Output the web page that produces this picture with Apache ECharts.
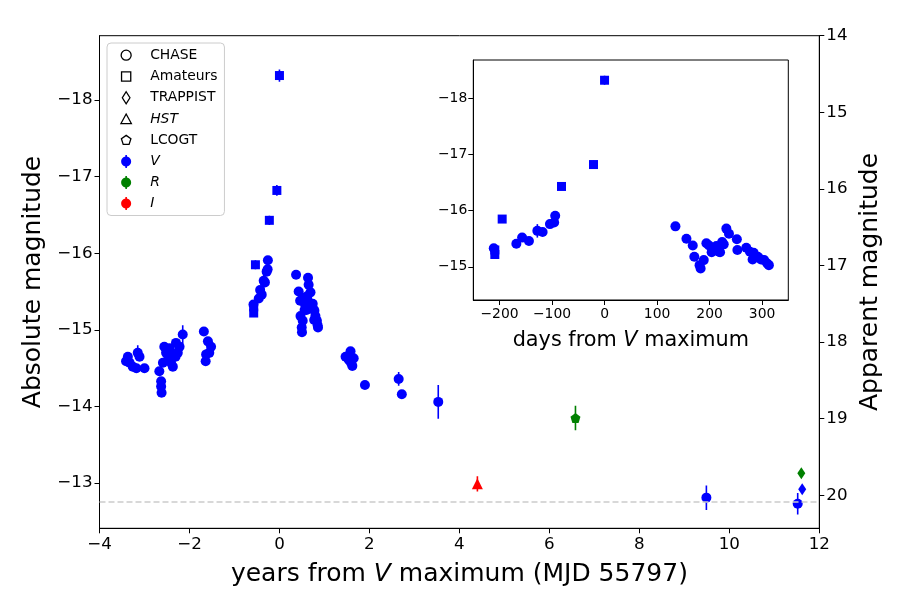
<!DOCTYPE html>
<html><head><meta charset="utf-8">
<script src="https://cdn.jsdelivr.net/npm/echarts@6/dist/echarts.min.js"></script>
<style>html,body{margin:0;padding:0;background:#fff}#c{width:900px;height:600px}</style>
</head><body><div id="c"></div>
<script>
// ---- tick labels ----
const yearTicks = [-4, -2, 0, 2, 4, 6, 8, 10, 12];
const absTicks = [-18, -17, -16, -15, -14, -13];
const appTicks = [14, 15, 16, 17, 18, 19, 20];
const dayTicks = [-200, -100, 0, 100, 200, 300];
const insetAbsTicks = [-18, -17, -16, -15];

const DIST_MOD = 32.84;        // apparent - absolute magnitude
const DAYS_PER_YEAR = 365.25;
const detectionLimit = -12.76; // dashed grey line (absolute mag)

// ---- CHASE V, far from peak: [years, absMag, err] ----
const chaseV_early = [
  [-3.41, -14.59, 0.03], [-3.37, -14.65, 0.03], [-3.33, -14.57, 0.03], [-3.26, -14.52, 0.03],
  [-3.18, -14.50, 0.03], [-3.15, -14.70, 0.10], [-3.11, -14.65, 0.03], [-3.00, -14.50, 0.03],
  [-2.67, -14.46, 0.03], [-2.63, -14.33, 0.03], [-2.63, -14.26, 0.03], [-2.62, -14.18, 0.03],
  [-2.59, -14.57, 0.03], [-2.56, -14.78, 0.03], [-2.52, -14.70, 0.03], [-2.48, -14.61, 0.03],
  [-2.44, -14.76, 0.03], [-2.41, -14.70, 0.03], [-2.41, -14.57, 0.03], [-2.37, -14.52, 0.03],
  [-2.31, -14.65, 0.03], [-2.30, -14.83, 0.03], [-2.26, -14.70, 0.03], [-2.22, -14.78, 0.03],
  [-2.15, -14.94, 0.12],
  [-1.68, -14.98, 0.03], [-1.64, -14.59, 0.03], [-1.63, -14.68, 0.03], [-1.59, -14.85, 0.03],
  [-1.56, -14.70, 0.03], [-1.52, -14.78, 0.03]
];
const chaseV_late = [
  [1.47, -14.65, 0.03], [1.54, -14.61, 0.03], [1.58, -14.72, 0.03], [1.59, -14.57, 0.03],
  [1.62, -14.53, 0.03], [1.65, -14.63, 0.03], [1.90, -14.28, 0.03], [2.65, -14.36, 0.09],
  [2.72, -14.16, 0.05], [3.53, -14.06, 0.22], [9.49, -12.81, 0.16], [11.52, -12.73, 0.14]
];
// ---- near peak (shown in both panels): [days, absMag, err] ----
const chaseV_peak = [
  [-211, -15.33, 0.03], [-168, -15.41, 0.03], [-157, -15.52, 0.03], [-144, -15.46, 0.03],
  [-128, -15.64, 0.12], [-118, -15.62, 0.03], [-104, -15.76, 0.03], [-96, -15.79, 0.03],
  [-94, -15.91, 0.03],
  [135, -15.72, 0.03], [156, -15.50, 0.03], [168, -15.38, 0.03], [171, -15.18, 0.03],
  [181, -15.03, 0.03], [183, -14.97, 0.03], [189, -15.12, 0.03], [194, -15.42, 0.03],
  [199, -15.38, 0.03], [204, -15.26, 0.03], [208, -15.33, 0.03], [213, -15.37, 0.03],
  [218, -15.27, 0.03], [220, -15.26, 0.03], [224, -15.44, 0.03], [227, -15.40, 0.03],
  [232, -15.68, 0.03], [237, -15.59, 0.03], [252, -15.49, 0.03], [253, -15.30, 0.03],
  [270, -15.34, 0.03], [277, -15.27, 0.03], [282, -15.13, 0.03], [284, -15.25, 0.03],
  [292, -15.18, 0.03], [298, -15.13, 0.03], [304, -15.12, 0.03], [310, -15.06, 0.03],
  [313, -15.03, 0.03]
];
const amateursV_peak = [
  [-209, -15.22, 0.05], [-209, -15.30, 0.05], [-195, -15.85, 0.06],
  [-82, -16.43, 0.06], [-21, -16.82, 0.07], [0, -18.32, 0.08]
];
// ---- other instruments: [years, absMag, err] ----
const hstI = [[4.40, -12.99, 0.10]];
const lcogtR = [[6.58, -13.85, 0.16]];
const trappistV = [[11.62, -12.92, 0.05]];
const trappistR = [[11.60, -13.13, 0.05]];

// ---------------------------------------------------------------
const FONT = 'DejaVu Sans';
const BLUE = '#0000ff', GREEN = '#008000', RED = '#ff0000';
const PENT = 'path://M0,-10 L9.51,-3.09 L5.88,8.09 L-5.88,8.09 L-9.51,-3.09 Z';
const SQUARE = 'path://M-5,-5 L5,-5 L5,5 L-5,5 Z';
const DIAMOND = 'path://M0,-6 L4,0 L0,6 L-4,0 Z';
const TRI = 'path://M0,-5.5 L5.5,5 L-5.5,5 Z';
// legend icons: padded with move-to points so they share one bounding box
const PAD = 'M-6.5,-6.5 M6.5,6.5 ';
const L_CIRCLE = 'path://' + PAD + 'M0,-5 C2.76,-5 5,-2.76 5,0 C5,2.76 2.76,5 0,5 C-2.76,5 -5,2.76 -5,0 C-5,-2.76 -2.76,-5 0,-5 Z';
const L_SQUARE = 'path://' + PAD + 'M-4.6,-4.6 L4.6,-4.6 L4.6,4.6 L-4.6,4.6 Z';
const L_DIAMOND = 'path://' + PAD + 'M0,-6 L3.8,0 L0,6 L-3.8,0 Z';
const L_TRI = 'path://' + PAD + 'M0,-5 L5.2,4.5 L-5.2,4.5 Z';
const L_PENT = 'path://' + PAD + 'M0,-5 L4.76,-1.55 L2.94,4.05 L-2.94,4.05 L-4.76,-1.55 Z';
const L_DOT = 'path://' + PAD + 'M0,-5 C2.76,-5 5,-2.76 5,0 C5,2.76 2.76,5 0,5 C-2.76,5 -5,2.76 -5,0 C-5,-2.76 -2.76,-5 0,-5 Z M-0.8,-6.5 L0.8,-6.5 L0.8,-4.9 L-0.8,-4.9 Z M-0.8,4.9 L0.8,4.9 L0.8,6.5 L-0.8,6.5 Z';

const toYears = d => d.map(p => [p[0] / DAYS_PER_YEAR, p[1], p[2]]);
const r2 = v => Math.round(v * 100) / 100;
const fmtMinus = v => String(v).replace('-', '\u2212');

function errSeries(data, xi, yi, color) {
  return {
    type: 'custom', xAxisIndex: xi, yAxisIndex: yi, data: data, silent: true, z: 2,
    encode: { x: 0, y: 1 }, clip: true,
    renderItem(params, api) {
      const x = api.value(0), y = api.value(1), e = api.value(2);
      const a = api.coord([x, y - e]), b = api.coord([x, y + e]);
      return { type: 'line', shape: { x1: a[0], y1: a[1], x2: b[0], y2: b[1] },
               style: { stroke: color, lineWidth: 1.6 } };
    }
  };
}
function markSeries(data, xi, yi, symbol, size, color) {
  return {
    type: 'scatter', xAxisIndex: xi, yAxisIndex: yi, silent: true, z: 3,
    data: data.map(p => [p[0], p[1]]), symbol: symbol, symbolSize: size,
    itemStyle: { color: color, opacity: 1 }, clip: true
  };
}
const series = [];
function group(data, xi, yi, symbol, size, color) {
  series.push(errSeries(data, xi, yi, color));
  series.push(markSeries(data, xi, yi, symbol, size, color));
}
// main panel
group(chaseV_early, 0, 0, 'circle', 10, BLUE);
group(chaseV_late, 0, 0, 'circle', 10, BLUE);
group(toYears(chaseV_peak), 0, 0, 'circle', 10, BLUE);
group(toYears(amateursV_peak), 0, 0, SQUARE, 9, BLUE);
group(hstI, 0, 0, TRI, 11, RED);
group(lcogtR, 0, 0, PENT, 10, GREEN);
group(trappistV, 0, 0, DIAMOND, [8, 12], BLUE);
group(trappistR, 0, 0, DIAMOND, [8, 12], GREEN);
// inset panel
group(chaseV_peak, 1, 2, 'circle', 10, BLUE);
group(amateursV_peak, 1, 2, SQUARE, 9, BLUE);

// detection-limit line
series.push({
  type: 'line', xAxisIndex: 0, yAxisIndex: 0, data: [], silent: true,
  markLine: { silent: true, symbol: 'none', label: { show: false }, animation: false,
    lineStyle: { color: '#cccccc', type: [6, 3], width: 1.6 },
    data: [{ yAxis: detectionLimit }] }
});

// legend dummy series
const legendNames = ['CHASE', 'Amateurs', 'TRAPPIST', 'HST', 'LCOGT', 'V', 'R', 'I'];
legendNames.forEach(n => series.push({ type: 'scatter', name: n, data: [], xAxisIndex: 0, yAxisIndex: 0, itemStyle: { opacity: 1 } }));
const outline = { color: 'rgba(0,0,0,0)', borderColor: '#000', borderWidth: 1.3, opacity: 1 };
const ital = { fontStyle: 'italic' };

const axisCommon = {
  axisLine: { show: true, onZero: false, lineStyle: { color: '#000', width: 1 } },
  axisTick: { show: true, length: 5, lineStyle: { color: '#000', width: 1 } },
  splitLine: { show: false },
  nameLocation: 'middle'
};

const absMin = -18.84, absMax = -12.41;
const TICK = 16.7, LABEL = 25, ITICK = 13.9, ILABEL = 20.8;

const option = {
  animation: false,
  backgroundColor: '#fff',
  textStyle: { fontFamily: FONT },
  grid: [
    { left: 99.5, right: 80.7, top: 35.7, bottom: 71.7, show: true, borderColor: '#000', borderWidth: 1, backgroundColor: 'transparent' },
    { left: 473.3, right: 111.7, top: 60, bottom: 300, show: true, borderColor: '#000', borderWidth: 1, backgroundColor: 'transparent' }
  ],
  xAxis: [
    Object.assign({}, axisCommon, {
      type: 'value', gridIndex: 0, min: -4, max: 12,
      axisTick: Object.assign({}, axisCommon.axisTick, { customValues: yearTicks }),
      axisLabel: { customValues: yearTicks, formatter: fmtMinus, fontSize: TICK, color: '#000', margin: 8, fontFamily: FONT },
      name: 'years from {i|V} maximum (MJD 55797)', nameGap: 34,
      nameTextStyle: { fontSize: LABEL, color: '#000', fontFamily: FONT, rich: { i: { fontStyle: 'italic', fontSize: LABEL, fontFamily: FONT, color: '#000' } } }
    }),
    Object.assign({}, axisCommon, {
      type: 'value', gridIndex: 1, min: -250, max: 350,
      axisTick: Object.assign({}, axisCommon.axisTick, { customValues: dayTicks }),
      axisLabel: { customValues: dayTicks, formatter: fmtMinus, fontSize: ITICK, color: '#000', margin: 7, fontFamily: FONT },
      name: 'days from {i|V} maximum', nameGap: 30,
      nameTextStyle: { fontSize: ILABEL, color: '#000', fontFamily: FONT, rich: { i: { fontStyle: 'italic', fontSize: ILABEL, fontFamily: FONT, color: '#000' } } }
    })
  ],
  yAxis: [
    Object.assign({}, axisCommon, {
      type: 'value', gridIndex: 0, min: absMin, max: absMax, inverse: true, position: 'left',
      axisTick: Object.assign({}, axisCommon.axisTick, { customValues: absTicks }),
      axisLabel: { customValues: absTicks, formatter: fmtMinus, fontSize: TICK, color: '#000', margin: 7, fontFamily: FONT },
      name: 'Absolute magnitude', nameGap: 50, nameRotate: 90,
      nameTextStyle: { fontSize: LABEL, color: '#000', fontFamily: FONT }
    }),
    Object.assign({}, axisCommon, {
      type: 'value', gridIndex: 0, min: r2(absMin + DIST_MOD), max: r2(absMax + DIST_MOD), inverse: true, position: 'right',
      axisTick: Object.assign({}, axisCommon.axisTick, { customValues: appTicks }),
      axisLabel: { customValues: appTicks, formatter: fmtMinus, fontSize: TICK, color: '#000', margin: 7, fontFamily: FONT },
      name: 'Apparent magnitude', nameGap: 34, nameRotate: 90,
      nameTextStyle: { fontSize: LABEL, color: '#000', fontFamily: FONT }
    }),
    Object.assign({}, axisCommon, {
      type: 'value', gridIndex: 1, min: -18.68, max: -14.41, inverse: true, position: 'left',
      axisTick: Object.assign({}, axisCommon.axisTick, { customValues: insetAbsTicks }),
      axisLabel: { customValues: insetAbsTicks, formatter: fmtMinus, fontSize: ITICK, color: '#000', margin: 6, fontFamily: FONT }
    })
  ],
  legend: {
    orient: 'vertical', left: 107, top: 43,
    padding: [5, 7, 5, 12], itemGap: 7, itemWidth: 30, itemHeight: 13,
    backgroundColor: 'rgba(255,255,255,0.8)', borderColor: '#cccccc', borderWidth: 1, borderRadius: 4,
    selectedMode: false, symbolKeepAspect: true,
    textStyle: { fontSize: 13.9, color: '#000', fontFamily: FONT, padding: [0, 0, 0, 4], lineHeight: 14 },
    data: [
      { name: 'CHASE', icon: L_CIRCLE, itemStyle: outline },
      { name: 'Amateurs', icon: L_SQUARE, itemStyle: outline },
      { name: 'TRAPPIST', icon: L_DIAMOND, itemStyle: outline },
      { name: 'HST', icon: L_TRI, itemStyle: outline, textStyle: ital },
      { name: 'LCOGT', icon: L_PENT, itemStyle: outline },
      { name: 'V', icon: L_DOT, itemStyle: { color: BLUE, borderWidth: 0, opacity: 1 }, textStyle: ital },
      { name: 'R', icon: L_DOT, itemStyle: { color: GREEN, borderWidth: 0, opacity: 1 }, textStyle: ital },
      { name: 'I', icon: L_DOT, itemStyle: { color: RED, borderWidth: 0, opacity: 1 }, textStyle: ital }
    ]
  },
  series: series
};
const chart = echarts.init(document.getElementById('c'), null, { renderer: 'canvas' });
chart.setOption(option);
</script>
</body></html>
